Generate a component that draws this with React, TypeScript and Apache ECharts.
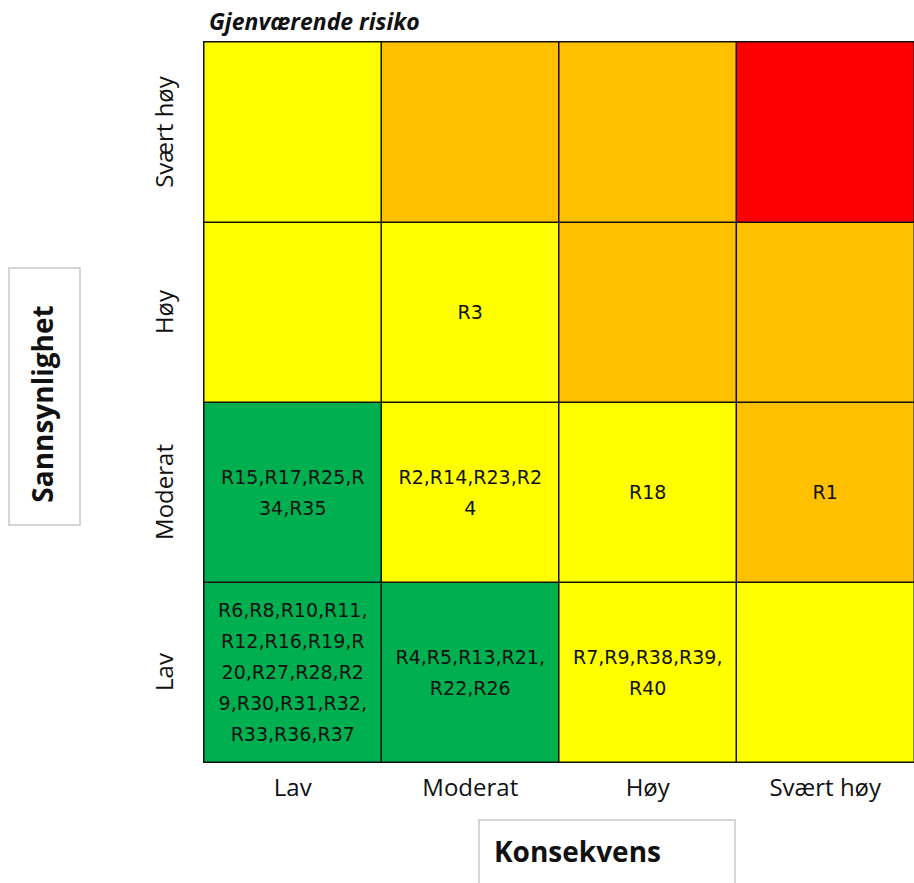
import React, { useEffect, useRef } from "react";
import * as echarts from "echarts";

const consequence = ["Lav", "Moderat", "Høy", "Svært høy"];
const likelihood = ["Lav", "Moderat", "Høy", "Svært høy"];
// risk level per cell: [xIndex, yIndex, level]
const riskLevels: [number, number, number][] = [
  [0, 0, 1], [1, 0, 1], [2, 0, 2], [3, 0, 2],
  [0, 1, 1], [1, 1, 2], [2, 1, 2], [3, 1, 3],
  [0, 2, 2], [1, 2, 2], [2, 2, 3], [3, 2, 3],
  [0, 3, 2], [1, 3, 3], [2, 3, 3], [3, 3, 4],
];
const cellRisks: Record<string, string> = {
  "0,0": "R6,R8,R10,R11,\nR12,R16,R19,R\n20,R27,R28,R2\n9,R30,R31,R32,\nR33,R36,R37",
  "1,0": "R4,R5,R13,R21,\nR22,R26",
  "2,0": "R7,R9,R38,R39,\nR40",
  "0,1": "R15,R17,R25,R\n34,R35",
  "1,1": "R2,R14,R23,R2\n4",
  "2,1": "R18",
  "3,1": "R1",
  "1,2": "R3",
};
const levelColors = ["#00B050", "#FFFF00", "#FFC000", "#FF0000"];

export default function App() {
  const ref = useRef<HTMLDivElement>(null);
  useEffect(() => {
    const chart = echarts.init(ref.current!, null, { renderer: "svg" });
    const font = "'Open Sans', 'Liberation Sans', sans-serif";
    const cellFont = "'DejaVu Sans', 'Open Sans', sans-serif";
    chart.setOption({
      animation: false,
      grid: { left: 204, top: 42, right: -6, bottom: 121 },
      xAxis: {
        type: "category",
        data: consequence,
        axisLine: { show: false },
        axisTick: { show: false },
        splitLine: { show: false },
        axisLabel: { color: "#111", fontSize: 24, fontFamily: font, margin: 12 },
      },
      yAxis: {
        type: "category",
        data: likelihood,
        axisLine: { show: false },
        axisTick: { show: false },
        splitLine: { show: false },
        axisLabel: { color: "#111", fontSize: 24, fontFamily: font, rotate: 90, margin: 29 },
      },
      visualMap: {
        type: "piecewise",
        show: false,
        dimension: 2,
        pieces: [
          { value: 1, color: levelColors[0] },
          { value: 2, color: levelColors[1] },
          { value: 3, color: levelColors[2] },
          { value: 4, color: levelColors[3] },
        ],
      },
      series: [
        {
          type: "heatmap",
          data: riskLevels.map(([x, y, l]) => ({
            value: [x, y, l],
            itemStyle: { borderColor: "#111", borderWidth: 1.5 },
            label: {
              show: !!cellRisks[`${x},${y}`],
              formatter: cellRisks[`${x},${y}`] || "",
              color: "#111",
              fontSize: 19,
              lineHeight: 31,
              fontFamily: cellFont,
            },
          })),
          emphasis: { disabled: true },
        },
      ],
      graphic: [
        {
          type: "text",
          left: 209,
          top: 9,
          style: {
            text: "Gjenværende risiko",
            fontSize: 23,
            fontWeight: "bold",
            fontStyle: "italic",
            fontFamily: font,
            fill: "#111",
          },
        },
        {
          type: "rect",
          shape: { x: 9, y: 268, width: 71, height: 257 },
          style: { fill: "#fff", stroke: "#c8c8c8", lineWidth: 1.5 },
        },
        {
          type: "text",
          x: 42,
          y: 404,
          rotation: Math.PI / 2,
          style: {
            text: "Sannsynlighet",
            fontSize: 28,
            fontWeight: "bold",
            fontFamily: font,
            fill: "#111",
            align: "center",
            verticalAlign: "middle",
          },
        },
        {
          type: "rect",
          shape: { x: 479, y: 820, width: 256, height: 80 },
          style: { fill: "#fff", stroke: "#c8c8c8", lineWidth: 1.5 },
        },
        {
          type: "text",
          x: 494,
          y: 851,
          style: {
            text: "Konsekvens",
            fontSize: 28,
            fontWeight: "bold",
            fontFamily: font,
            fill: "#111",
            align: "left",
            verticalAlign: "middle",
          },
        },
      ],
    });
    return () => chart.dispose();
  }, []);
  return (
    <div
      ref={ref}
      style={{ position: "fixed", left: 0, top: 0, width: 914, height: 883, background: "#fff" }}
    />
  );
}
